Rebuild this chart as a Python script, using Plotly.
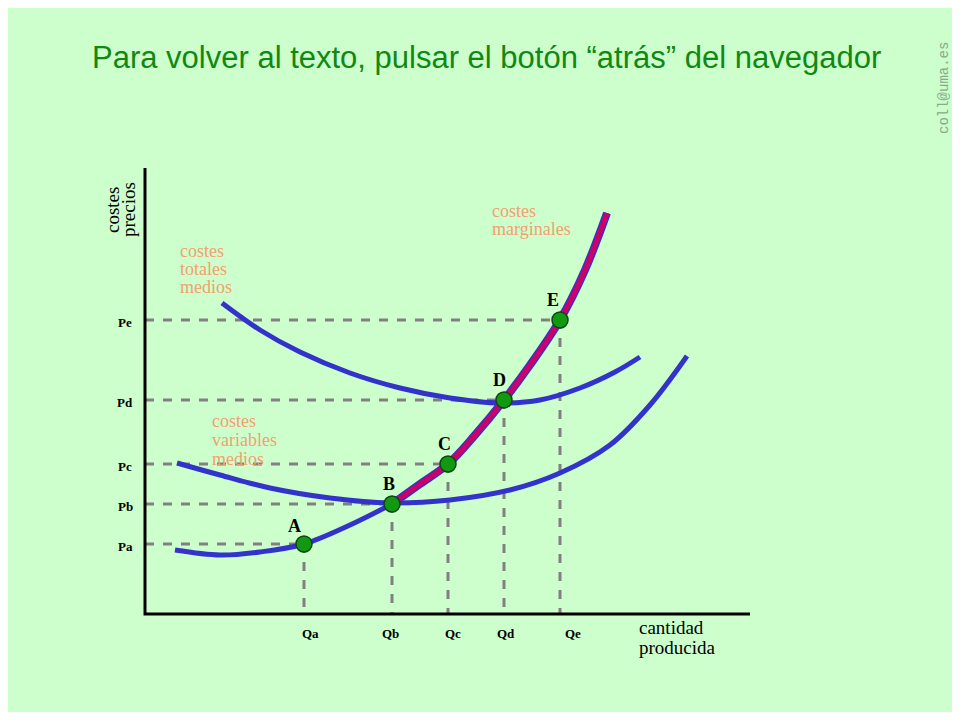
import plotly.graph_objects as go

# screen-space coordinates (x right, y down)
cme_x = [222, 260, 300, 350, 400, 450, 500, 540, 580, 615, 640]
cme_y = [303, 330, 352, 373, 388, 398, 403, 400, 388, 372, 357]
cvme_x = [177, 220, 270, 330, 390, 450, 510, 560, 610, 650, 687]
cvme_y = [463, 475, 488, 498, 503, 500, 490, 473, 445, 405, 356]
cmg_low_x = [175, 220, 260, 304, 350, 392]
cmg_low_y = [550, 555, 552, 544, 525, 504]
cmg_x = [392, 420, 448, 475, 504, 530, 560, 585, 607]
cmg_y = [504, 484, 464, 435, 400, 365, 320, 270, 213]

pt_names = ["A", "B", "C", "D", "E"]
pt_x = [304, 392, 448, 504, 560]
pt_y = [544, 504, 464, 400, 320]
p_labels = ["Pa", "Pb", "Pc", "Pd", "Pe"]
q_labels = ["Qa", "Qb", "Qc", "Qd", "Qe"]

AXIS_X0, AXIS_Y0 = 145, 614
BLUE = "#3333CC"
RED = "#CC0066"
ORANGE = "#F4A070"
GRAY = "#808080"
PAGE_MARGIN = 8  # browser body margin

fig = go.Figure()

for px_, py_ in zip(pt_x, pt_y):
    fig.add_trace(go.Scatter(x=[AXIS_X0, px_], y=[py_, py_], mode="lines",
                             line=dict(color=GRAY, width=3, dash="dash")))
    fig.add_trace(go.Scatter(x=[px_, px_], y=[py_, AXIS_Y0], mode="lines",
                             line=dict(color=GRAY, width=3, dash="dash")))

for xs, ys in [(cme_x, cme_y), (cvme_x, cvme_y), (cmg_low_x, cmg_low_y)]:
    fig.add_trace(go.Scatter(x=xs, y=ys, mode="lines", line=dict(color=BLUE, width=5, shape="spline")))
fig.add_trace(go.Scatter(x=cmg_x, y=cmg_y, mode="lines", line=dict(color=BLUE, width=8, shape="spline")))
fig.add_trace(go.Scatter(x=cmg_x, y=cmg_y, mode="lines", line=dict(color=RED, width=5, shape="spline")))

fig.add_trace(go.Scatter(x=pt_x, y=pt_y, mode="markers",
                         marker=dict(color="#119911", size=16, line=dict(color="#114411", width=1.5))))

fig.add_trace(go.Scatter(x=[AXIS_X0, AXIS_X0, 750], y=[168, AXIS_Y0, AXIS_Y0], mode="lines",
                         line=dict(color="black", width=3)))

serif = "Times New Roman, Liberation Serif, serif"
ann = []
offsets = {"A": (-10, -18), "B": (-3, -20), "C": (-4, -20), "D": (-5, -20), "E": (-7, -20)}
for n, x, y in zip(pt_names, pt_x, pt_y):
    dx, dy = offsets[n]
    ann.append(dict(x=x + dx, y=y + dy, text=f"<b>{n}</b>", showarrow=False,
                    font=dict(family=serif, size=18, color="black")))
for lab, y in zip(p_labels, pt_y):
    ann.append(dict(x=125, y=y + 2, text=f"<b>{lab}</b>", showarrow=False,
                    font=dict(family=serif, size=13, color="black")))
for lab, x in zip(q_labels, [310, 390, 453, 506, 573]):
    ann.append(dict(x=x, y=633, text=f"<b>{lab}</b>", showarrow=False,
                    font=dict(family=serif, size=13, color="black")))


def lines(words, x, y0, step, color, size):
    for i, w in enumerate(words):
        ann.append(dict(x=x, y=y0 + i * step, text=w, showarrow=False, xanchor="left",
                        font=dict(family=serif, size=size, color=color)))


lines(["costes", "totales", "medios"], 178, 251, 18, ORANGE, 18)
lines(["costes", "variables", "medios"], 210, 421, 19, ORANGE, 18)
lines(["costes", "marginales"], 490, 211, 18, ORANGE, 18)
lines(["cantidad", "producida"], 637, 627, 20, "black", 19)
for w, x in [("costes", 112), ("precios", 128)]:
    ann.append(dict(x=x, y=210, text=w, showarrow=False, textangle=-90,
                    font=dict(family=serif, size=19, color="black")))
ann.append(dict(x=486, y=57, text="Para volver al texto, pulsar el botón “atrás” del navegador",
                showarrow=False, font=dict(family="Liberation Sans, Arial, sans-serif", size=31, color="#118811")))
ann.append(dict(x=944, y=88, text="coll@uma.es", showarrow=False, textangle=-90,
                font=dict(family="Liberation Mono, DejaVu Sans Mono, monospace", size=14, color="#88AA88")))
for a in ann:
    a.update(xref="x", yref="y")

fig.update_layout(
    width=960 - 2 * PAGE_MARGIN, height=720 - 2 * PAGE_MARGIN, showlegend=False,
    margin=dict(l=0, r=0, t=0, b=0),
    plot_bgcolor="#CCFFCC", paper_bgcolor="#CCFFCC",
    xaxis=dict(range=[PAGE_MARGIN, 960 - PAGE_MARGIN], visible=False, domain=[0, 1]),
    yaxis=dict(range=[720 - PAGE_MARGIN, PAGE_MARGIN], visible=False, domain=[0, 1]),
    annotations=ann,
)

fig.write_html("out.html")
